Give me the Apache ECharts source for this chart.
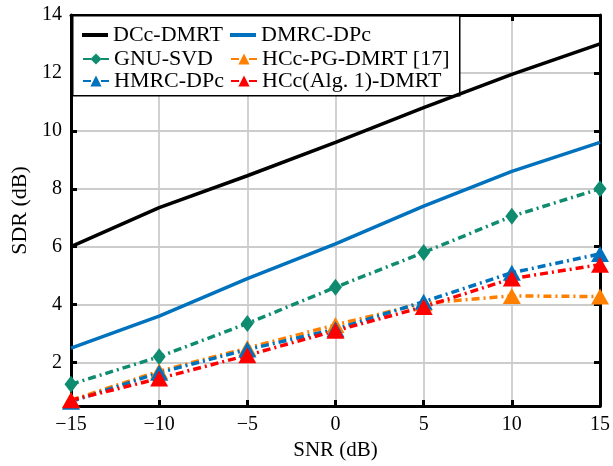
<!DOCTYPE html>
<html><head><meta charset="utf-8">
<script src="https://cdn.jsdelivr.net/npm/echarts@6/dist/echarts.min.js"></script>
<style>html,body{margin:0;padding:0;background:#fff}#c{width:613px;height:466px}</style>
</head><body><div id="c"></div>
<script>
const snr = [-15, -10, -5, 0, 5, 10, 15];
const dccDmrt = [6.0, 7.35, 8.45, 9.6, 10.8, 11.95, 13.0];
const dmrcDpc = [2.5, 3.6, 4.9, 6.1, 7.4, 8.6, 9.6];
const gnuSvd = [1.25, 2.2, 3.35, 4.6, 5.8, 7.05, 8.0];
const hmrcDpc = [0.65, 1.65, 2.45, 3.15, 4.1, 5.1, 5.75];
const hccPg = [0.7, 1.7, 2.5, 3.3, 4.05, 4.3, 4.28];
const hccAlg1 = [0.7, 1.45, 2.25, 3.1, 3.92, 4.9, 5.38];
const names = ['DCc-DMRT', 'DMRC-DPc', 'GNU-SVD', 'HCc-PG-DMRT [17]', 'HMRC-DPc', 'HCc(Alg. 1)-DMRT'];

const FONT = "'Liberation Serif', 'Times New Roman', serif";
const pairs = arr => snr.map((x, i) => [x, arr[i]]);
const dashDot = [8, 4, 2, 4];
function mk(name, data, color, opt) {
  return Object.assign({
    name, type: 'line', data: pairs(data), xAxisIndex: 0, yAxisIndex: 0,
    showSymbol: false, symbol: 'none',
    lineStyle: { color, width: 3.5, type: 'solid' },
    itemStyle: { color },
    emphasis: { disabled: true }, animation: false
  }, opt || {});
}
const tri = [18, 16];
function marked(symbol, size, color) {
  return { symbol, symbolSize: size, showSymbol: true,
           lineStyle: { color, width: 3.5, type: dashDot } };
}
const series = [
  mk(names[0], dccDmrt, '#000000'),
  mk(names[1], dmrcDpc, '#0072BD'),
  mk(names[2], gnuSvd, '#0F8C70', marked('diamond', [13, 17], '#0F8C70')),
  mk(names[3], hccPg, '#FF8000', marked('triangle', tri, '#FF8000')),
  mk(names[4], hmrcDpc, '#0072BD', marked('triangle', tri, '#0072BD')),
  mk(names[5], hccAlg1, '#FF0000', marked('triangle', tri, '#FF0000'))
];

const minus = v => String(v).replace('-', '\u2212');
const frame = { show: true, onZero: false, lineStyle: { color: '#000', width: 3 } };
const tick = { show: true, inside: true, length: 6, lineStyle: { color: '#000', width: 3 } };
const lab = { color: '#000', fontFamily: FONT, fontSize: 20 };
const legText = { fontFamily: FONT, fontSize: 22, color: '#000' };
const legItem = (n, extra) => Object.assign({ name: n, textStyle: legText }, extra || {});
const legendCommon = {
  orient: 'vertical', itemWidth: 26, itemHeight: 14, itemGap: 0, z: 10,
  textStyle: legText, selectedMode: false, backgroundColor: 'transparent'
};
const solidLegend = {
  orient: 'vertical', itemWidth: 26, itemHeight: 4, z: 10, icon: 'rect',
  textStyle: legText, selectedMode: false, backgroundColor: 'transparent'
};

const chart = echarts.init(document.getElementById('c'), null, { renderer: 'canvas' });
chart.setOption({
  backgroundColor: '#fff',
  animation: false,
  textStyle: { fontFamily: FONT },
  grid: { left: 71, right: 13, top: 15, bottom: 54, containLabel: false },
  xAxis: [
    { type: 'value', min: -15, max: 15, interval: 5, position: 'bottom',
      axisLine: frame, axisTick: tick,
      axisLabel: Object.assign({ formatter: minus, margin: 9 }, lab),
      splitLine: { show: true, lineStyle: { color: '#CCCCCC', width: 1.8 } },
      name: 'SNR (dB)', nameLocation: 'middle', nameGap: 34,
      nameTextStyle: { fontFamily: FONT, fontSize: 21, color: '#000' } },
    { type: 'value', min: -15, max: 15, interval: 5, position: 'top',
      axisLine: frame, axisTick: tick, axisLabel: { show: false }, splitLine: { show: false } }
  ],
  yAxis: [
    { type: 'value', min: 0.5, max: 14, splitNumber: 7, position: 'left',
      axisLine: frame, axisTick: tick,
      axisLabel: Object.assign({ showMinLabel: false, margin: 9, formatter: v => (v === 0.5 ? '' : minus(v)) }, lab),
      splitLine: { show: true, lineStyle: { color: '#CCCCCC', width: 1.8 } },
      name: 'SDR (dB)', nameLocation: 'middle', nameGap: 38, nameRotate: 90,
      nameTextStyle: { fontFamily: FONT, fontSize: 22, color: '#000' } },
    { type: 'value', min: 0.5, max: 14, splitNumber: 7, position: 'right',
      axisLine: frame, axisTick: tick, axisLabel: { show: false }, splitLine: { show: false } }
  ],
  legend: [
    Object.assign({ left: 77, top: 19, data: [legItem(names[0])] }, solidLegend),
    Object.assign({ left: 225, top: 19, data: [legItem(names[1])] }, solidLegend),
    Object.assign({ left: 77, top: 43, data: [legItem(names[2]), legItem(names[4])] }, legendCommon),
    Object.assign({ left: 225, top: 43, data: [legItem(names[3]), legItem(names[5])] }, legendCommon)
  ],
  graphic: [
    { type: 'rect', z: 3, left: 72, top: 15, shape: { width: 387, height: 80 },
      style: { fill: '#fff', stroke: '#000', lineWidth: 1.5 } }
  ],
  series
});
</script></body></html>
